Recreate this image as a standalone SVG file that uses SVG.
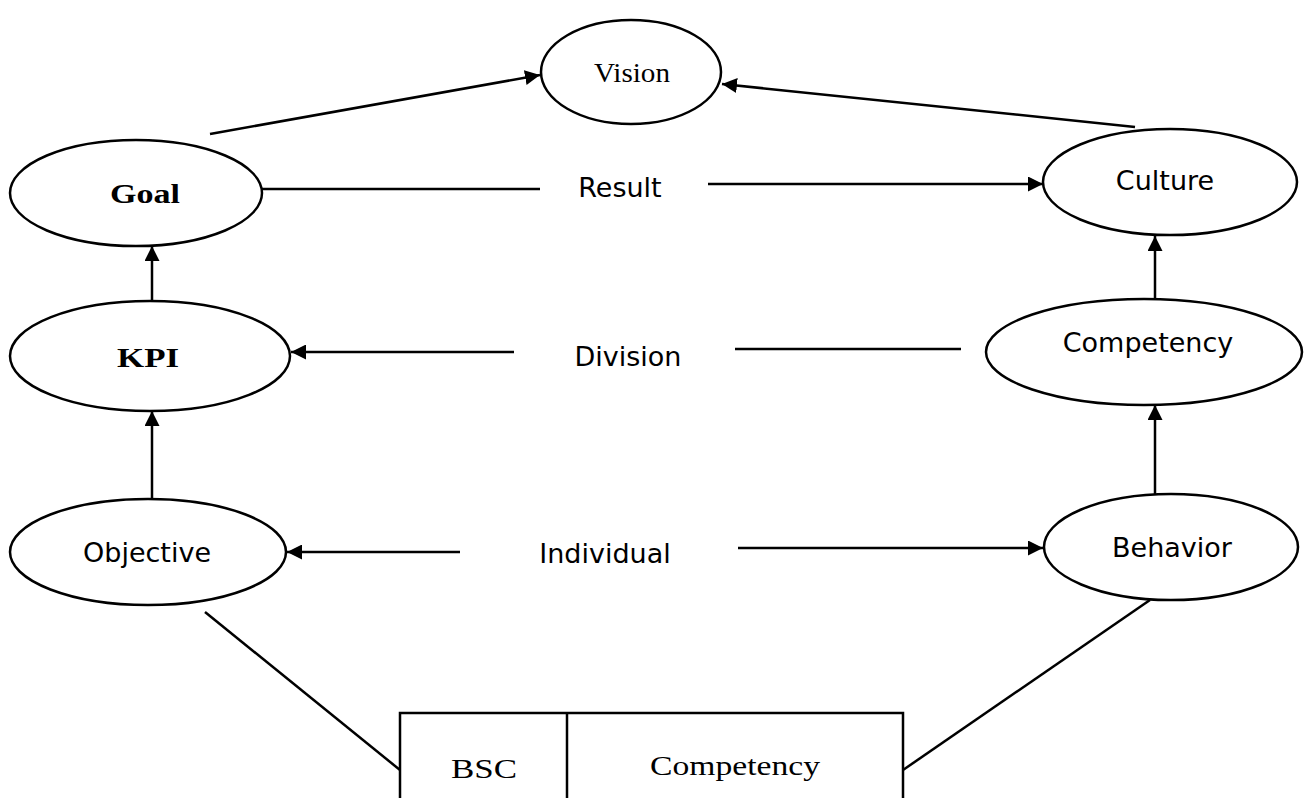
<svg xmlns="http://www.w3.org/2000/svg" width="1316" height="798" viewBox="0 0 1316 798">
<style>
.n{fill:#fff;stroke:#000;stroke-width:2.5}
.c{stroke:#000;stroke-width:2.5;fill:none}
.serif{font-family:"Liberation Serif","Times New Roman",serif;font-size:28px;font-weight:bold;fill:#000}
.reg{font-weight:normal}
.sans{font-family:"DejaVu Sans","Liberation Sans",sans-serif;font-size:27px;fill:#000}
</style>
<defs>
<marker id="a" viewBox="0 0 10 10" refX="10" refY="5" markerWidth="6" markerHeight="6" orient="auto" markerUnits="strokeWidth">
<path d="M0,0 L10,5 L0,10 z" fill="#000"/>
</marker>
</defs>
<rect width="1316" height="798" fill="#fff"/>
<g id="connectors">
<line class="c" x1="210" y1="134" x2="540" y2="75" marker-end="url(#a)"/>
<line class="c" x1="1135" y1="127" x2="722" y2="84" marker-end="url(#a)"/>
<line class="c" x1="262" y1="189" x2="540" y2="189"/>
<line class="c" x1="708" y1="184" x2="1043" y2="184" marker-end="url(#a)"/>
<line class="c" x1="514" y1="352" x2="291" y2="352" marker-end="url(#a)"/>
<line class="c" x1="735" y1="349" x2="961" y2="349"/>
<line class="c" x1="460" y1="552" x2="287" y2="552" marker-end="url(#a)"/>
<line class="c" x1="738" y1="548" x2="1043" y2="548" marker-end="url(#a)"/>
<line class="c" x1="152" y1="301" x2="152" y2="246" marker-end="url(#a)"/>
<line class="c" x1="152" y1="499" x2="152" y2="411" marker-end="url(#a)"/>
<line class="c" x1="1155" y1="299" x2="1155" y2="236" marker-end="url(#a)"/>
<line class="c" x1="1155" y1="494" x2="1155" y2="405" marker-end="url(#a)"/>
<line class="c" x1="205" y1="612" x2="400" y2="770"/>
<line class="c" x1="1150" y1="600" x2="903" y2="770"/>
</g>
<g id="labels">
<text class="sans" x="620" y="197" text-anchor="middle">Result</text>
<text class="sans" x="628" y="366" text-anchor="middle">Division</text>
<text class="sans" x="605" y="563" text-anchor="middle">Individual</text>
</g>
<g id="vision"><ellipse class="n" cx="631" cy="72" rx="90" ry="52"/><text class="serif reg" x="632" y="82" text-anchor="middle" textLength="76" lengthAdjust="spacingAndGlyphs">Vision</text></g>
<g id="goal"><ellipse class="n" cx="136" cy="193" rx="126" ry="53"/><text class="serif" x="145" y="203" text-anchor="middle" textLength="70" lengthAdjust="spacingAndGlyphs">Goal</text></g>
<g id="culture"><ellipse class="n" cx="1170" cy="182" rx="127" ry="53"/><text class="sans" x="1165" y="190" text-anchor="middle">Culture</text></g>
<g id="kpi"><ellipse class="n" cx="150" cy="356" rx="140" ry="55"/><text class="serif" x="148" y="367" text-anchor="middle" textLength="62" lengthAdjust="spacingAndGlyphs">KPI</text></g>
<g id="competency"><ellipse class="n" cx="1144" cy="352" rx="158" ry="53"/><text class="sans" x="1148" y="352" text-anchor="middle">Competency</text></g>
<g id="objective"><ellipse class="n" cx="148" cy="552" rx="138" ry="53"/><text class="sans" x="147" y="562" text-anchor="middle">Objective</text></g>
<g id="behavior"><ellipse class="n" cx="1171" cy="547" rx="127" ry="53"/><text class="sans" x="1172" y="557" text-anchor="middle">Behavior</text></g>
<g id="box">
<rect class="n" x="400" y="713" width="503" height="100"/>
<line class="c" x1="567" y1="713" x2="567" y2="798"/>
<text class="serif reg" x="484" y="778" text-anchor="middle" textLength="66" lengthAdjust="spacingAndGlyphs">BSC</text>
<text class="serif reg" x="735" y="775" text-anchor="middle" textLength="170" lengthAdjust="spacingAndGlyphs">Competency</text>
</g>
</svg>
